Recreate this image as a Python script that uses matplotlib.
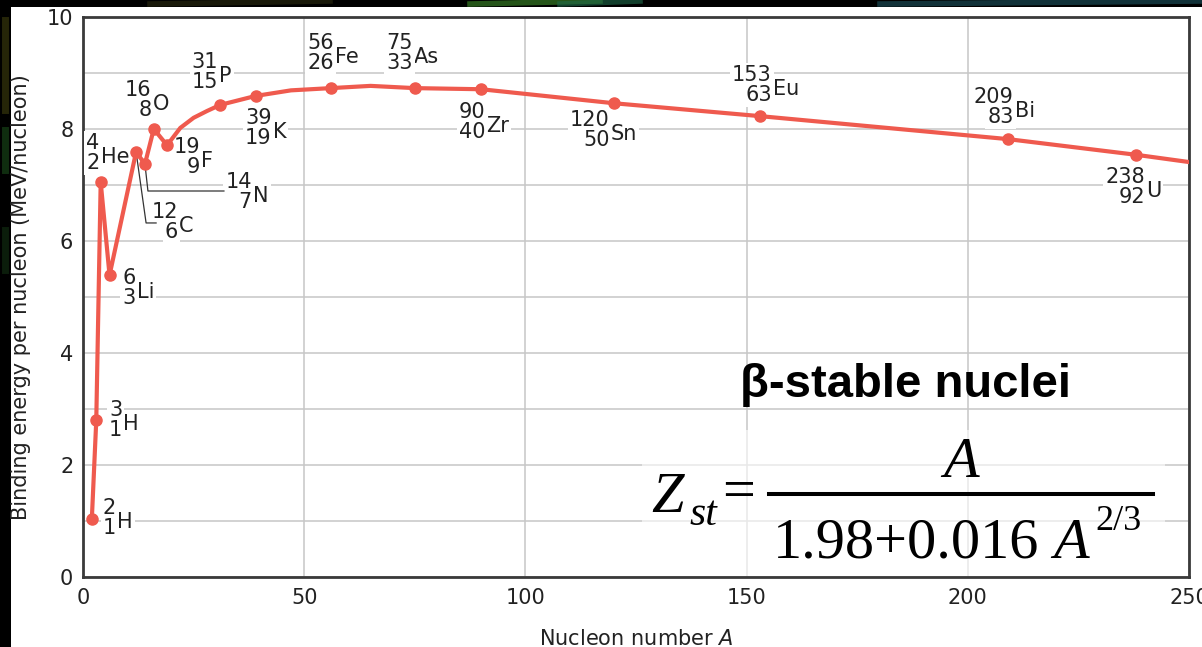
import matplotlib
matplotlib.use("Agg")
import matplotlib.pyplot as plt
from matplotlib.transforms import offset_copy
from matplotlib.patches import Rectangle
from matplotlib.lines import Line2D
import numpy as np

# ---- data -------------------------------------------------------------
# labelled beta-stable nuclides: mass number A, charge Z, symbol, B/A (MeV)
mass_numbers = [2, 3, 4, 6, 12, 14, 16, 19, 31, 39, 56, 75, 90, 120, 153, 209, 238]
atomic_numbers = [1, 1, 2, 3, 6, 7, 8, 9, 15, 19, 26, 33, 40, 50, 63, 83, 92]
symbols = ["H", "H", "He", "Li", "C", "N", "O", "F", "P", "K",
           "Fe", "As", "Zr", "Sn", "Eu", "Bi", "U"]
binding_per_nucleon = [1.04, 2.80, 7.05, 5.39, 7.59, 7.375, 8.00, 7.71, 8.43, 8.59,
                       8.73, 8.73, 8.71, 8.46, 8.23, 7.82, 7.54]

# binding-energy curve traced through the nuclides
curve_A = [2, 3, 4, 6, 12, 14, 16, 19, 22, 25, 28, 31, 39, 47, 56, 65, 75,
           90, 120, 153, 209, 238, 250]
curve_BA = [1.04, 2.80, 7.05, 5.39, 7.59, 7.375, 8.00, 7.71, 8.02, 8.20, 8.32, 8.43,
            8.59, 8.69, 8.73, 8.77, 8.73, 8.71, 8.46, 8.23, 7.82, 7.54, 7.41]

x_ticks = [0, 50, 100, 150, 200, 250]
y_ticks = [0, 2, 4, 6, 8, 10]

# ---- layout (pixels) ------------------------------------------------------
W, H = 1202, 647
# label anchor = left/baseline of element symbol, offset (right, down) from the point
label_offsets = [(25, 9), (27, 10), (0, -19), (27, 23), (43, 80), (108, 38),
                 (-1, -19), (34, 22), (-1, -23), (17, 42), (4, -25), (-1, -25),
                 (5, 43), (-3, 37), (13, -21), (7, -22), (10, 42)]
# leader polylines (right, down offsets) for the crowded C and N labels
leaders = {4: [(0, 0), (10, 71), (20, 71)],
           5: [(0, 0), (3, 27), (79, 27)]}

RED = "#EF5A4E"
INK = "#222222"
SANS = "DejaVu Sans"
SERIF = "Liberation Serif"

plt.rcParams["font.family"] = [SANS]
plt.rcParams["mathtext.fontset"] = "dejavusans"


def fx(px):
    return px / W


def fy(py):
    return 1 - py / H


fig = plt.figure(figsize=(W / 100, H / 100), dpi=100, facecolor="black")

# faint coloured streaks on the dark border
for (x0, x1, c) in [(470, 600, "#3f8f2a"), (560, 640, "#1f6a4a"), (880, 1202, "#1d5560"),
                    (150, 330, "#2a2a10")]:
    fig.add_artist(Line2D([fx(x0), fx(x1)], [fy(4), fy(1)], color=c, lw=4, alpha=0.6,
                          transform=fig.transFigure))
for (y0, y1, c) in [(20, 110, "#4a4a10"), (130, 170, "#1f5a1f"), (230, 270, "#163a16")]:
    fig.add_artist(Line2D([fx(5), fx(5)], [fy(y0), fy(y1)], color=c, lw=5, alpha=0.5,
                          transform=fig.transFigure))

# white panel holding the chart
fig.add_artist(Rectangle((fx(11), 0), 1 - fx(11), fy(7), transform=fig.transFigure,
                         facecolor="white", edgecolor="none", zorder=0))

ax = fig.add_axes([fx(83), fy(577), fx(1189) - fx(83), fy(17) - fy(577)])
ax.set_xlim(0, 250)
ax.set_ylim(0, 10)
ax.set_facecolor("white")

ax.set_xticks(x_ticks)
ax.set_yticks(y_ticks)
ax.set_yticks(np.arange(1, 10, 2), minor=True)
ax.grid(True, which="major", color="#c6c6c6", lw=1.1, zorder=0)
ax.grid(True, which="minor", axis="y", color="#c6c6c6", lw=1.1, zorder=0)
ax.set_axisbelow(True)
ax.tick_params(which="both", length=0, labelsize=15, colors=INK)
ax.tick_params(axis="y", pad=7)
ax.tick_params(axis="x", pad=8)
for s in ax.spines.values():
    s.set_color("#3a3a3a")
    s.set_linewidth(2.0)

ax.set_xlabel(r"Nucleon number $\mathit{A}$", fontsize=15, color=INK, labelpad=15)
ax.set_ylabel("Binding energy per nucleon (MeV/nucleon)", fontsize=15,
              color=INK, labelpad=11)

# curve and nuclide markers
ax.plot(curve_A, curve_BA, color=RED, lw=3.0, zorder=5, solid_capstyle="round")
ax.plot(mass_numbers, binding_per_nucleon, "o", color=RED, ms=8, zorder=6)

# nuclide labels: mass number over charge number, right-aligned before the symbol
box = dict(facecolor="white", edgecolor="none", pad=1.5)
for A, Z, sym, B, (dx, dy) in zip(mass_numbers, atomic_numbers, symbols,
                                  binding_per_nucleon, label_offsets):
    base = offset_copy(ax.transData, fig=fig, x=dx, y=-dy, units="dots")
    sup = offset_copy(ax.transData, fig=fig, x=dx - 1, y=-dy + 14, units="dots")
    sub = offset_copy(ax.transData, fig=fig, x=dx - 1, y=-dy - 6, units="dots")
    ax.text(A, B, sym, transform=base, ha="left", va="baseline", fontsize=15,
            color=INK, bbox=box, zorder=3)
    ax.text(A, B, str(A), transform=sup, ha="right", va="baseline", fontsize=15,
            color=INK, bbox=box, zorder=3)
    ax.text(A, B, str(Z), transform=sub, ha="right", va="baseline", fontsize=15,
            color=INK, bbox=box, zorder=3)

fig.canvas.draw()
for idx, pts in leaders.items():
    p = ax.transData.transform((mass_numbers[idx], binding_per_nucleon[idx]))
    disp = np.array([[p[0] + ox, p[1] - oy] for ox, oy in pts])
    d = ax.transData.inverted().transform(disp)
    ax.plot(d[:, 0], d[:, 1], color="#333333", lw=0.9, zorder=4)

# soft veil behind the formula
ax.add_patch(Rectangle((126.4, 0.02), 118.2, 2.6, facecolor="white", edgecolor="none",
                       alpha=0.6, zorder=1))

fig.text(fx(906), fy(397), "β-stable nuclei", ha="center", va="baseline",
         fontsize=34, fontweight="bold", color="black", family="Liberation Sans")

# Z_st = A / (1.98 + 0.016 A^(2/3)), typeset piece by piece
FS = 42
serif = dict(family=SERIF, color="black")
fig.text(fx(651), fy(512), "Z", fontsize=FS, style="italic", ha="left",
         va="baseline", **serif)
fig.text(fx(689), fy(525), "st", fontsize=30, style="italic", ha="left",
         va="baseline", **serif)
fig.text(fx(739), fy(508), "=", fontsize=FS, ha="center", va="baseline", **serif)
fig.add_artist(Line2D([fx(769), fx(1153)], [fy(494), fy(494)], color="black", lw=2.9,
                      transform=fig.transFigure))
fig.text(fx(961), fy(477), "A", fontsize=FS, style="italic", ha="center",
         va="baseline", **serif)
den = fig.text(fx(773), fy(558), "1.98+0.016", fontsize=FS, ha="left",
               va="baseline", **serif)
fig.canvas.draw()
r = fig.canvas.get_renderer()
x_end = den.get_window_extent(r).x1
a_den = fig.text((x_end + 14) / W, fy(558), "A", fontsize=FS, style="italic",
                 ha="left", va="baseline", **serif)
x_end = a_den.get_window_extent(r).x1
fig.text((x_end + 6) / W, fy(530), "2/3", fontsize=26, ha="left", va="baseline",
         **serif)

fig.savefig("out.png", dpi=100, facecolor=fig.get_facecolor())
